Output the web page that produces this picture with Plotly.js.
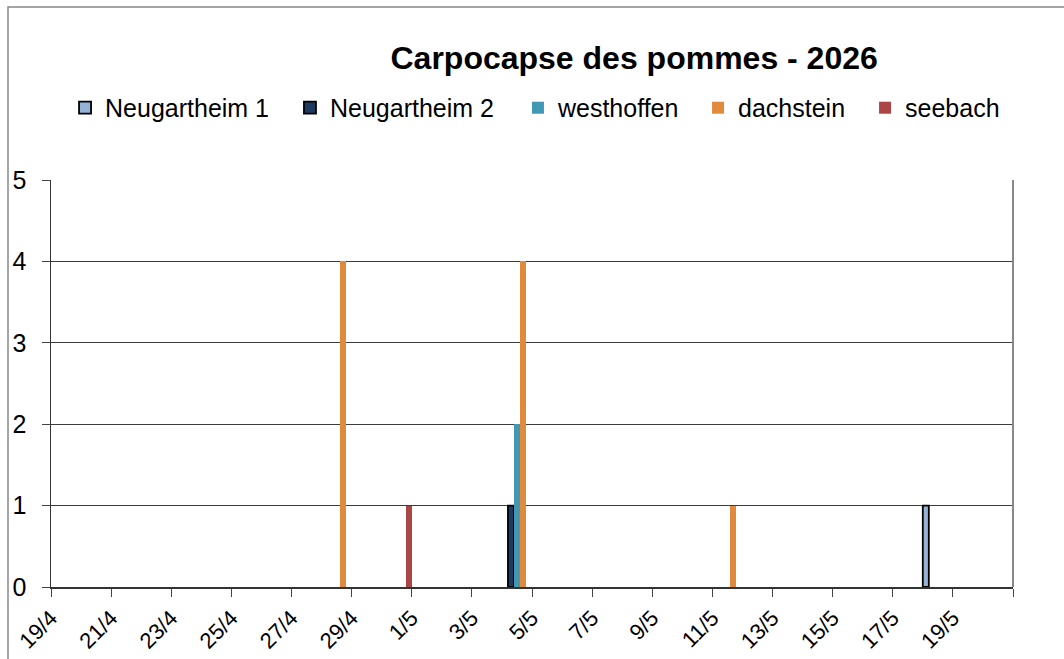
<!DOCTYPE html>
<html>
<head>
<meta charset="utf-8">
<script src="https://cdn.plot.ly/plotly-3.0.1.min.js"></script>
<style>html,body{margin:0;padding:0;background:#fff}#chart{width:1064px;height:659px}</style>
</head>
<body>
<div id="chart"></div>
<script>
const dates = [
  '2026-04-19','2026-04-20','2026-04-21','2026-04-22','2026-04-23','2026-04-24','2026-04-25','2026-04-26',
  '2026-04-27','2026-04-28','2026-04-29','2026-04-30','2026-05-01','2026-05-02','2026-05-03','2026-05-04',
  '2026-05-05','2026-05-06','2026-05-07','2026-05-08','2026-05-09','2026-05-10','2026-05-11','2026-05-12',
  '2026-05-13','2026-05-14','2026-05-15','2026-05-16','2026-05-17','2026-05-18','2026-05-19','2026-05-20'
];
const _ = null; // no catch recorded
const neugartheim1 = [_,_,_,_,_,_,_,_, _,_,_,_,_,_,_,_, _,_,_,_,_,_,_,_, _,_,_,_,_,1,_,_];
const neugartheim2 = [_,_,_,_,_,_,_,_, _,_,_,_,_,_,_,1, _,_,_,_,_,_,_,_, _,_,_,_,_,_,_,_];
const westhoffen   = [0,0,0,0,0,0,0,0, 0,0,0,0,0,0,0,2, 0,0,0,0,0,0,0,0, 0,0,0,0,0,0,0,0];
const dachstein    = [0,0,0,0,0,0,0,0, 0,4,0,0,0,0,0,4, 0,0,0,0,0,0,1,0, 0,0,0,0,0,0,0,0];
const seebach      = [0,0,0,0,0,0,0,0, 0,0,0,1,0,0,0,0, 0,0,0,0,0,0,0,0, 0,0,0,0,0,0,0,0];

const seriesNames = ['Neugartheim 1','Neugartheim 2','westhoffen','dachstein','seebach'];
const tickDates = ['2026-04-19','2026-04-21','2026-04-23','2026-04-25','2026-04-27','2026-04-29','2026-05-01',
  '2026-05-03','2026-05-05','2026-05-07','2026-05-09','2026-05-11','2026-05-13','2026-05-15','2026-05-17',
  '2026-05-19','2026-05-21'];
const tickLabels = ['19/4','21/4','23/4','25/4','27/4','29/4','1/5','3/5','5/5','7/5','9/5','11/5','13/5',
  '15/5','17/5','19/5',''];
const chartTitle = 'Carpocapse des pommes - 2026';

const values = [neugartheim1, neugartheim2, westhoffen, dachstein, seebach];
const fills = ['#95b3d7','#1f3a5f','#4198b2','#e08a3e','#ac4644'];
const outlines = [1.8, 1.8, 0, 0, 0];
const legendIds = ['legend','legend2','legend3','legend4','legend5'];
const legendX = [0.0146, 0.2484, 0.4854, 0.6726, 0.8462];

const traces = values.map((v, i) => ({
  type: 'bar',
  name: seriesNames[i],
  x: dates,
  y: v,
  xperiod: 86400000,
  xperiodalignment: 'middle',
  legend: legendIds[i],
  marker: {color: fills[i], line: {color: '#000', width: outlines[i]}},
  hoverinfo: 'x+y+name'
}));

const layout = {
  width: 1064, height: 659,
  margin: {l: 51, r: 51, t: 180, b: 72, pad: 0},
  paper_bgcolor: '#fff', plot_bgcolor: '#fff',
  font: {family: 'Liberation Sans, Arial, sans-serif', color: '#000', size: 22},
  title: {text: '<b>' + chartTitle + '</b>', font: {size: 32, family: 'Liberation Sans, Arial, sans-serif', color: '#000'},
          x: 0.596, xanchor: 'center', y: 0.912, yanchor: 'middle'},
  barmode: 'group', bargap: 0, bargroupgap: 0,
  showlegend: true,
  xaxis: {
    type: 'date',
    range: ['2026-04-19', '2026-05-21'],
    tickmode: 'array', tickvals: tickDates, ticktext: tickLabels,
    tickangle: -45, ticks: 'outside', ticklen: 8, tickcolor: '#444', tickwidth: 1,
    tickfont: {size: 22},
    showline: true, linecolor: '#333', linewidth: 1.5,
    showgrid: false, zeroline: false, fixedrange: true
  },
  yaxis: {
    range: [0, 5], dtick: 1, tick0: 0,
    ticks: 'outside', ticklen: 8, tickcolor: '#444',
    tickfont: {size: 25}, ticklabelstandoff: 10,
    showline: true, linecolor: '#333', linewidth: 1.5,
    showgrid: true, gridcolor: '#3c3c3c', gridwidth: 1,
    zeroline: false, fixedrange: true
  },
  shapes: [
    {type: 'line', xref: 'paper', yref: 'paper', x0: 1, x1: 1, y0: 0, y1: 1,
     line: {color: '#888', width: 2}},
    {type: 'rect', xref: 'paper', yref: 'paper', x0: -0.0447, x1: 1.2, y0: -0.3, y1: 1.425,
     line: {color: '#888', width: 1.5}, fillcolor: 'rgba(0,0,0,0)', layer: 'below'}
  ]
};
legendIds.forEach((id, i) => {
  layout[id] = {orientation: 'h', x: legendX[i], xanchor: 'left', y: 1.177, yanchor: 'middle',
                font: {size: 25}, bgcolor: 'rgba(0,0,0,0)', itemwidth: 30};
});

Plotly.newPlot('chart', traces, layout, {displayModeBar: false, staticPlot: true});
</script>
</body>
</html>
